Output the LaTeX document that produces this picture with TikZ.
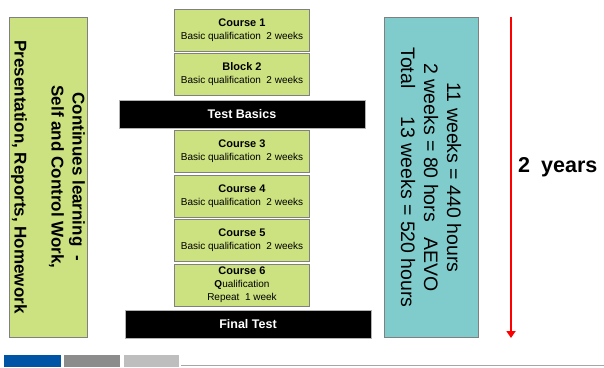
\documentclass[tikz,border=0pt]{standalone}
\usepackage{fontspec}
\setmainfont{Liberation Sans}
\usepackage{xcolor}
\usetikzlibrary{positioning,arrows.meta}

\definecolor{boxgreen}{RGB}{204,225,128}
\definecolor{boxteal}{RGB}{128,204,204}
\definecolor{barblue}{RGB}{0,84,166}
\definecolor{bargray}{RGB}{140,140,140}
\definecolor{barlight}{RGB}{190,190,190}
\newcommand{\ctitle}[1]{{\fontsize{11}{13}\selectfont\bfseries #1}}

\begin{document}
\begin{tikzpicture}[x=1pt,y=1pt,node distance=44.5pt,
  course/.style={draw=gray,fill=boxgreen,minimum width=135pt,minimum height=42pt,inner sep=0pt,align=center,font=\fontsize{10}{13}\selectfont},
  testbar/.style={draw=gray!60,fill=black,text=white,minimum width=246pt,minimum height=28pt,inner sep=0pt,font=\fontsize{12.5}{15}\selectfont\bfseries},
  sidebox/.style={draw=gray,rotate=-90,minimum width=320pt,inner sep=0pt,align=center}]
            \useasboundingbox (0,0) rectangle (604,-367);

            \node[sidebox,fill=boxgreen,minimum height=78pt,font=\fontsize{17}{21}\selectfont\bfseries] (learn) at (48,-177)
                {Continues learning\ \ -\\Self and Control Work,\\[16pt]Presentation, Reports, Homework};

            \node[course] (c1) at (242,-30) {\ctitle{Course 1}\\Basic qualification\ \ 2 weeks};
            \node[course] (b2) [below of = c1] {\ctitle{Block 2}\\Basic qualification\ \ 2 weeks};
            \node[testbar] (tb) at (242,-114) {Test Basics};
            \node[course] (c3) at (242,-151.5) {\ctitle{Course 3}\\Basic qualification\ \ 2 weeks};
            \node[course] (c4) [below of = c3] {\ctitle{Course 4}\\Basic qualification\ \ 2 weeks};
            \node[course] (c5) [below of = c4] {\ctitle{Course 5}\\Basic qualification\ \ 2 weeks};
            \node[course] (c6) [below of = c5] {\ctitle{Course 6}\\\textbf{Q}ualification\\Repeat\ \ 1 week};
            \node[testbar] (ft) at (248,-324) {Final Test};

            \node[sidebox,fill=boxteal,minimum height=94pt,font=\fontsize{19.5}{23}\selectfont] (hours) at (431,-177.5)
                {11 weeks = 440 hours\\2 weeks = 80 hors\hspace{10pt} AEVO\\Total\hspace{28pt}13 weeks = 520 hours};

            \coordinate (top) at (511,-17);
            \coordinate (bot) at (511,-338);
            \draw[red,line width=2.5pt,-{Triangle[length=7pt,width=9pt]}] (top) -- (bot);
            \node[anchor=west,inner sep=0pt,font=\fontsize{21.5}{25}\selectfont\bfseries] (yrs) at (518,-167) {2\hspace{11pt}years};

            \fill[barblue] (4,-355) rectangle (61,-367);
            \fill[bargray] (64,-355) rectangle (120,-367);
            \fill[barlight] (124,-355) rectangle (179,-367);
            \draw[gray!70,line width=1.2pt] (181,-365.5) -- (604,-365.5);
        \end{tikzpicture}
\end{document}
